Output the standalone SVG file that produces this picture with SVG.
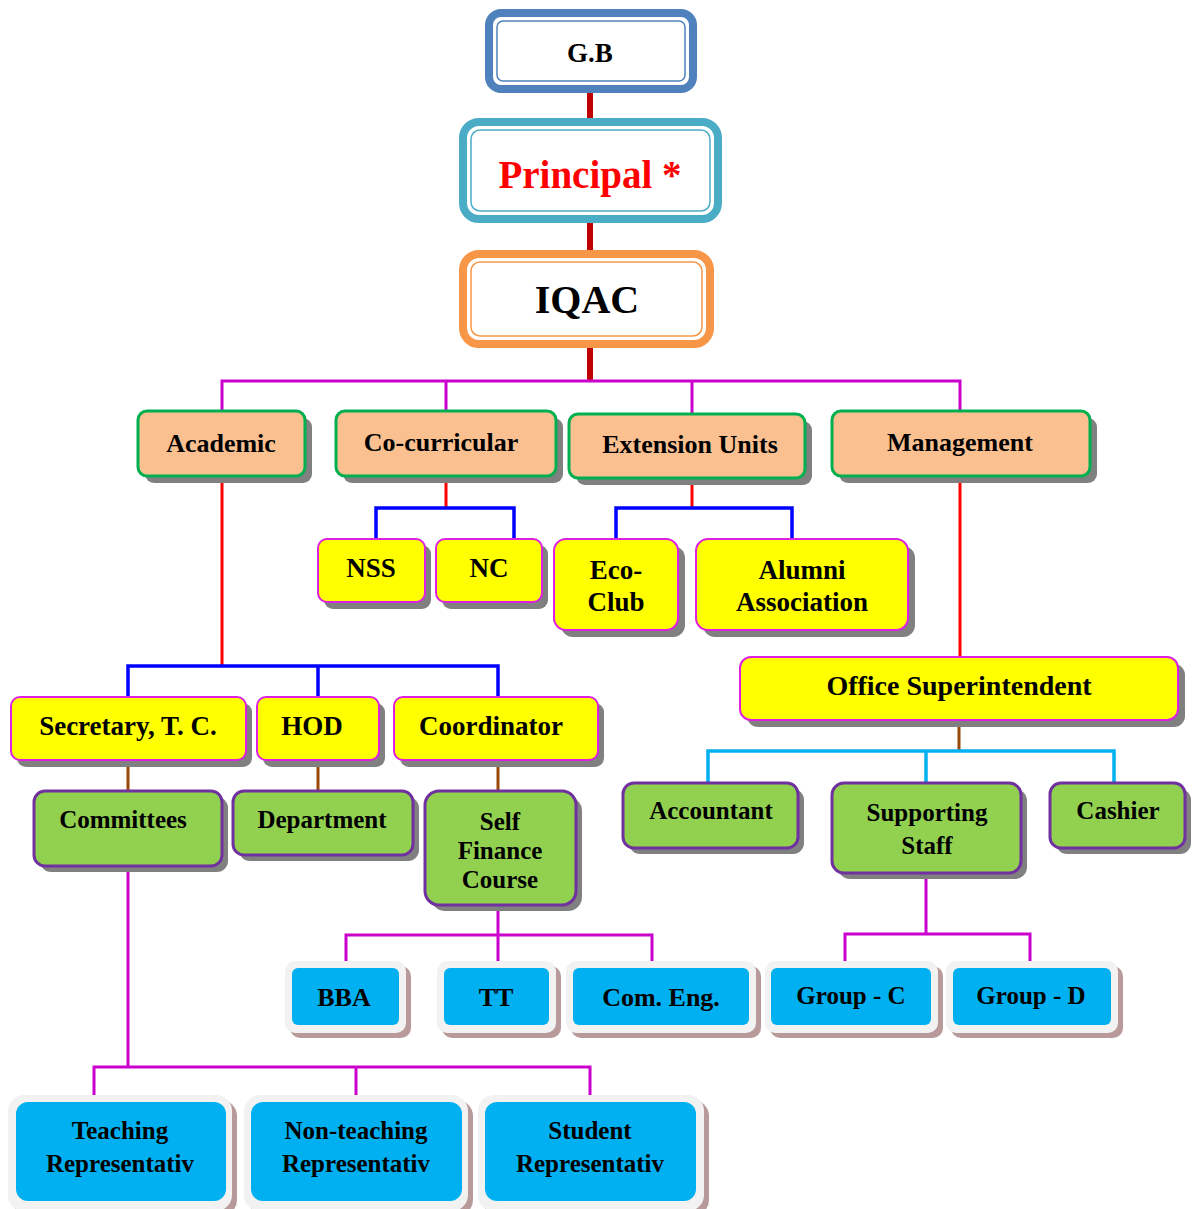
<svg xmlns="http://www.w3.org/2000/svg" width="1198" height="1209" viewBox="0 0 1198 1209">
<style>
.t{font-family:"Liberation Serif","Times New Roman",serif;font-weight:bold;text-anchor:middle;fill:#000}
.sh{fill:#808080}
.shb{fill:#B89A9A}
.peach{fill:#FAC090;stroke:#00B050;stroke-width:3}
.yel{fill:#FFFF00;stroke:#E020E0;stroke-width:2}
.grn{fill:#92D050;stroke:#7030A0;stroke-width:3}
.bout{fill:#F2F2F2}
.bin{fill:#00B0F0}
.c{fill:none;stroke-linecap:butt;stroke-linejoin:miter}
</style>
<rect width="1198" height="1209" fill="#fff"/>
<g id="connectors">
  <path class="c" d="M590 92V122M590 220V254M590 346V382" stroke="#C00000" stroke-width="6"/>
  <path class="c" d="M222 412V381H960V412M446 381V412M692 381V414" stroke="#CC00CC" stroke-width="3"/>
  <path class="c" d="M446 476V508M692 478V508M222 476V666M960 476V657" stroke="#FF0000" stroke-width="3"/>
  <path class="c" d="M376 539V508H514V539M616 540V508H792V540M128 697V666H498V697M318 666V697" stroke="#0000FF" stroke-width="3.5"/>
  <path class="c" d="M128 760V791M318 760V791M498 760V791M959 720V751" stroke="#984807" stroke-width="3"/>
  <path class="c" d="M708 783V751H1114V783M926 751V783" stroke="#00B0F0" stroke-width="3.5"/>
  <path class="c" d="M128 866V1067M94 1097V1067H590V1097M356 1067V1097M498 905V935M346 965V935H652V965M498 935V965M926 873V934M845 965V934H1030V965" stroke="#CC00CC" stroke-width="3"/>
</g>
<g id="gb">
  <rect x="489" y="13" width="204" height="76" rx="12" fill="#fff" stroke="#4F81BD" stroke-width="8"/>
  <rect x="497" y="21" width="188" height="60" rx="6" fill="#fff" stroke="#4F81BD" stroke-width="1.5"/>
  <text class="t" x="590" y="62" font-size="27">G.B</text>
</g>
<g id="principal">
  <rect x="463" y="122" width="255" height="97" rx="16" fill="#fff" stroke="#4BACC6" stroke-width="8"/>
  <rect x="471" y="130" width="239" height="81" rx="9" fill="#fff" stroke="#4BACC6" stroke-width="1.5"/>
  <text class="t" x="590" y="188" font-size="39" style="fill:#FF0000">Principal *</text>
</g>
<g id="iqac">
  <rect x="463" y="254" width="247" height="90" rx="16" fill="#fff" stroke="#F79646" stroke-width="8"/>
  <rect x="471" y="262" width="231" height="74" rx="9" fill="#fff" stroke="#F79646" stroke-width="1.5"/>
  <text class="t" x="587" y="313" font-size="40">IQAC</text>
</g>
<g id="academic">
  <rect class="sh" x="145" y="418" width="167" height="65" rx="9"/>
  <rect class="peach" x="138" y="411" width="167" height="65" rx="9"/>
  <text class="t" x="221" y="452" font-size="26">Academic</text>
</g>
<g id="cocurricular">
  <rect class="sh" x="343" y="418" width="220" height="65" rx="9"/>
  <rect class="peach" x="336" y="411" width="220" height="65" rx="9"/>
  <text class="t" x="441" y="451" font-size="26">Co-curricular</text>
</g>
<g id="extension">
  <rect class="sh" x="576" y="421" width="236" height="64" rx="9"/>
  <rect class="peach" x="569" y="414" width="236" height="64" rx="9"/>
  <text class="t" x="690" y="453" font-size="26">Extension Units</text>
</g>
<g id="management">
  <rect class="sh" x="839" y="418" width="258" height="65" rx="9"/>
  <rect class="peach" x="832" y="411" width="258" height="65" rx="9"/>
  <text class="t" x="960" y="451" font-size="26">Management</text>
</g>
<g id="nss">
  <rect class="sh" x="324" y="545" width="107" height="64" rx="9"/>
  <rect class="yel" x="318" y="539" width="107" height="63" rx="9"/>
  <text class="t" x="371" y="577" font-size="27">NSS</text>
</g>
<g id="nc">
  <rect class="sh" x="442" y="545" width="106" height="64" rx="9"/>
  <rect class="yel" x="436" y="539" width="106" height="63" rx="9"/>
  <text class="t" x="489" y="577" font-size="27">NC</text>
</g>
<g id="ecoclub">
  <rect class="sh" x="561" y="546" width="124" height="91" rx="12"/>
  <rect class="yel" x="554" y="539" width="124" height="91" rx="12"/>
  <text class="t" x="616" y="579" font-size="27">Eco-</text>
  <text class="t" x="616" y="611" font-size="27">Club</text>
</g>
<g id="alumni">
  <rect class="sh" x="703" y="546" width="212" height="91" rx="12"/>
  <rect class="yel" x="696" y="539" width="212" height="91" rx="12"/>
  <text class="t" x="802" y="579" font-size="27">Alumni</text>
  <text class="t" x="802" y="611" font-size="27">Association</text>
</g>
<g id="secretary">
  <rect class="sh" x="17" y="703" width="235" height="64" rx="9"/>
  <rect class="yel" x="11" y="697" width="235" height="63" rx="9"/>
  <text class="t" x="128" y="735" font-size="27">Secretary, T. C.</text>
</g>
<g id="hod">
  <rect class="sh" x="263" y="703" width="122" height="64" rx="9"/>
  <rect class="yel" x="257" y="697" width="122" height="63" rx="9"/>
  <text class="t" x="312" y="735" font-size="27">HOD</text>
</g>
<g id="coordinator">
  <rect class="sh" x="400" y="703" width="204" height="64" rx="9"/>
  <rect class="yel" x="394" y="697" width="204" height="63" rx="9"/>
  <text class="t" x="491" y="735" font-size="27">Coordinator</text>
</g>
<g id="committees">
  <rect class="sh" x="40" y="797" width="188" height="75" rx="11"/>
  <rect class="grn" x="34" y="791" width="188" height="75" rx="11"/>
  <text class="t" x="123" y="828" font-size="25">Committees</text>
</g>
<g id="department">
  <rect class="sh" x="239" y="797" width="180" height="64" rx="11"/>
  <rect class="grn" x="233" y="791" width="180" height="64" rx="11"/>
  <text class="t" x="322" y="828" font-size="25">Department</text>
</g>
<g id="selffinance">
  <rect class="sh" x="431" y="797" width="151" height="114" rx="14"/>
  <rect class="grn" x="425" y="791" width="151" height="114" rx="14"/>
  <text class="t" x="500" y="830" font-size="25">Self</text>
  <text class="t" x="500" y="859" font-size="25">Finance</text>
  <text class="t" x="500" y="888" font-size="25">Course</text>
</g>
<g id="office">
  <rect class="sh" x="747" y="664" width="438" height="63" rx="11"/>
  <rect class="yel" x="740" y="657" width="438" height="63" rx="11"/>
  <text class="t" x="959" y="695" font-size="28">Office Superintendent</text>
</g>
<g id="accountant">
  <rect class="sh" x="629" y="789" width="175" height="65" rx="11"/>
  <rect class="grn" x="623" y="783" width="175" height="65" rx="11"/>
  <text class="t" x="711" y="819" font-size="25">Accountant</text>
</g>
<g id="supporting">
  <rect class="sh" x="838" y="789" width="189" height="90" rx="12"/>
  <rect class="grn" x="832" y="783" width="189" height="90" rx="12"/>
  <text class="t" x="927" y="821" font-size="25">Supporting</text>
  <text class="t" x="927" y="854" font-size="25">Staff</text>
</g>
<g id="cashier">
  <rect class="sh" x="1056" y="789" width="135" height="65" rx="11"/>
  <rect class="grn" x="1050" y="783" width="135" height="65" rx="11"/>
  <text class="t" x="1118" y="819" font-size="25">Cashier</text>
</g>
<g id="bba">
  <rect class="shb" x="290" y="966" width="121" height="72" rx="10"/>
  <rect class="bout" x="285" y="961" width="121" height="72" rx="10"/>
  <rect class="bin" x="292" y="968" width="107" height="57" rx="6"/>
  <text class="t" x="344" y="1006" font-size="26">BBA</text>
</g>
<g id="tt">
  <rect class="shb" x="442" y="966" width="119" height="72" rx="10"/>
  <rect class="bout" x="437" y="961" width="119" height="72" rx="10"/>
  <rect class="bin" x="444" y="968" width="105" height="57" rx="6"/>
  <text class="t" x="496" y="1006" font-size="26">TT</text>
</g>
<g id="comeng">
  <rect class="shb" x="571" y="966" width="190" height="72" rx="10"/>
  <rect class="bout" x="566" y="961" width="190" height="72" rx="10"/>
  <rect class="bin" x="573" y="968" width="176" height="57" rx="6"/>
  <text class="t" x="661" y="1006" font-size="26">Com. Eng.</text>
</g>
<g id="groupc">
  <rect class="shb" x="770" y="966" width="173" height="72" rx="10"/>
  <rect class="bout" x="765" y="961" width="173" height="72" rx="10"/>
  <rect class="bin" x="771" y="968" width="160" height="57" rx="6"/>
  <text class="t" x="851" y="1004" font-size="25">Group - C</text>
</g>
<g id="groupd">
  <rect class="shb" x="951" y="966" width="172" height="72" rx="10"/>
  <rect class="bout" x="946" y="961" width="172" height="72" rx="10"/>
  <rect class="bin" x="953" y="968" width="158" height="57" rx="6"/>
  <text class="t" x="1031" y="1004" font-size="25">Group - D</text>
</g>
<g id="teaching">
  <rect class="shb" x="13" y="1100" width="224" height="116" rx="16"/>
  <rect class="bout" x="8" y="1095" width="224" height="116" rx="16"/>
  <rect class="bin" x="16" y="1102" width="210" height="99" rx="12"/>
  <text class="t" x="120" y="1139" font-size="25">Teaching</text>
  <text class="t" x="120" y="1172" font-size="25">Representativ</text>
</g>
<g id="nonteaching">
  <rect class="shb" x="249" y="1100" width="224" height="116" rx="16"/>
  <rect class="bout" x="244" y="1095" width="224" height="116" rx="16"/>
  <rect class="bin" x="251" y="1102" width="211" height="99" rx="12"/>
  <text class="t" x="356" y="1139" font-size="25">Non-teaching</text>
  <text class="t" x="356" y="1172" font-size="25">Representativ</text>
</g>
<g id="student">
  <rect class="shb" x="483" y="1100" width="226" height="116" rx="16"/>
  <rect class="bout" x="478" y="1095" width="226" height="116" rx="16"/>
  <rect class="bin" x="485" y="1102" width="211" height="99" rx="12"/>
  <text class="t" x="590" y="1139" font-size="25">Student</text>
  <text class="t" x="590" y="1172" font-size="25">Representativ</text>
</g>
</svg>
